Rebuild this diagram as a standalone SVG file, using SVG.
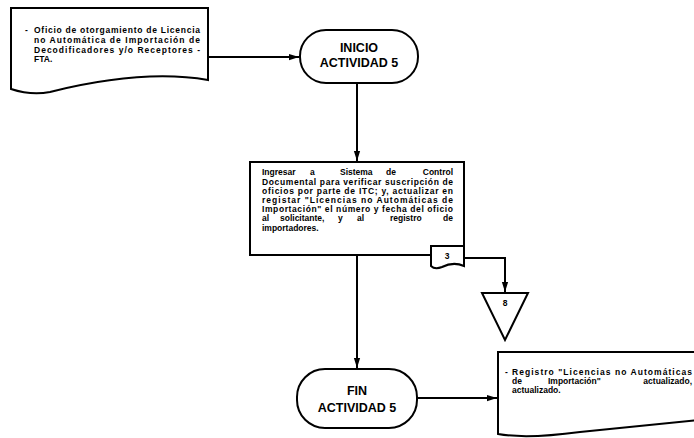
<svg xmlns="http://www.w3.org/2000/svg" width="694" height="438" viewBox="0 0 694 438">
<style>
.s{fill:#fff;stroke:#000;stroke-width:2}
.l{fill:none;stroke:#000;stroke-width:2}
.t{font-family:"Liberation Sans",Arial,sans-serif;font-weight:bold;font-size:8.5px;fill:#000}
.e{text-anchor:end}
.h{font-family:"Liberation Sans",Arial,sans-serif;font-weight:bold;font-size:12.5px;fill:#000;text-anchor:middle}
</style>
<defs>
<marker id="a" markerWidth="10" markerHeight="16" refX="16" refY="5" viewBox="0 0 16 10" orient="auto" markerUnits="userSpaceOnUse">
<path d="M0,0 L16,5 L0,10 Z" fill="#000"/>
</marker>
</defs>
<rect width="694" height="438" fill="#fff"/>
<g id="doc1">
<path class="s" d="M11,8 L208,8 L208,80 C150,70 90,82 50,92 C35,95 20,92 11,89 Z"/>
<text class="t" x="25" y="33">-</text>
<text class="t" x="34" y="33" textLength="166" lengthAdjust="spacing">Oficio de otorgamiento de Licencia</text>
<text class="t" x="34" y="43" textLength="166" lengthAdjust="spacing">no Automática de Importación de</text>
<text class="t" x="34" y="53" textLength="166" lengthAdjust="spacing">Decodificadores y/o Receptores -</text>
<text class="t" x="34" y="62">FTA.</text>
</g>
<g id="inicio">
<rect class="s" x="300" y="30" width="118" height="53" rx="26" ry="26"/>
<text class="h" x="359" y="52">INICIO</text>
<text class="h" x="359" y="67">ACTIVIDAD 5</text>
</g>
<g id="proceso">
<rect class="s" x="250" y="162" width="214" height="93"/>
<text class="t" y="175"><tspan x="262">Ingresar</tspan><tspan x="310">a</tspan><tspan x="340">Sistema</tspan><tspan x="386">de</tspan></text>
<text class="t e" x="453" y="175">Control</text>
<text class="t" x="262" y="185" textLength="191" lengthAdjust="spacing">Documental para verificar suscripción de</text>
<text class="t" x="262" y="194" textLength="191" lengthAdjust="spacing">oficios por parte de ITC; y, actualizar en</text>
<text class="t" x="262" y="203" textLength="191" lengthAdjust="spacing">registar "Licencias no Automáticas de</text>
<text class="t" x="262" y="212" textLength="191" lengthAdjust="spacing">Importación" el número y fecha del oficio</text>
<text class="t" y="221"><tspan x="262">al</tspan><tspan x="280">solicitante,</tspan><tspan x="338">y</tspan><tspan x="357">al</tspan><tspan x="390">registro</tspan></text>
<text class="t e" x="453" y="221">de</text>
<text class="t" x="262" y="231">importadores.</text>
</g>
<g id="conector3">
<path class="s" d="M431,246 L464,246 L464,266 C455,262 448,264 442,267 C437,269 433,268 431,266 Z"/>
<text class="t" x="447" y="259" text-anchor="middle">3</text>
</g>
<g id="conector8">
<path class="s" d="M482,293 L528,293 L505,340 Z"/>
<text class="t" x="505" y="306" text-anchor="middle">8</text>
</g>
<g id="fin">
<rect class="s" x="297" y="369" width="120" height="59" rx="28" ry="28"/>
<text class="h" x="357" y="395">FIN</text>
<text class="h" x="357" y="412">ACTIVIDAD 5</text>
</g>
<g id="doc2">
<path class="s" d="M498,352 L700,352 L700,420 C660,424 620,428 580,432 C550,436 520,438 498,434 Z"/>
<text class="t" x="505" y="375">-</text>
<text class="t" x="512" y="375" textLength="180" lengthAdjust="spacing">Registro "Licencias no Automáticas</text>
<text class="t" y="384"><tspan x="512">de</tspan><tspan x="548">Importación"</tspan></text>
<text class="t e" x="692" y="384">actualizado,</text>
<text class="t" x="512" y="393">actualizado.</text>
</g>
<g id="conectores">
<path class="l" d="M208,57 L299,57" marker-end="url(#a)"/>
<path class="l" d="M357,84 L357,161" marker-end="url(#a)"/>
<path class="l" d="M357,256 L357,368" marker-end="url(#a)"/>
<path class="l" d="M464,258 L505,258 L505,292" marker-end="url(#a)"/>
<path class="l" d="M418,398 L497,398" marker-end="url(#a)"/>
</g>
</svg>
